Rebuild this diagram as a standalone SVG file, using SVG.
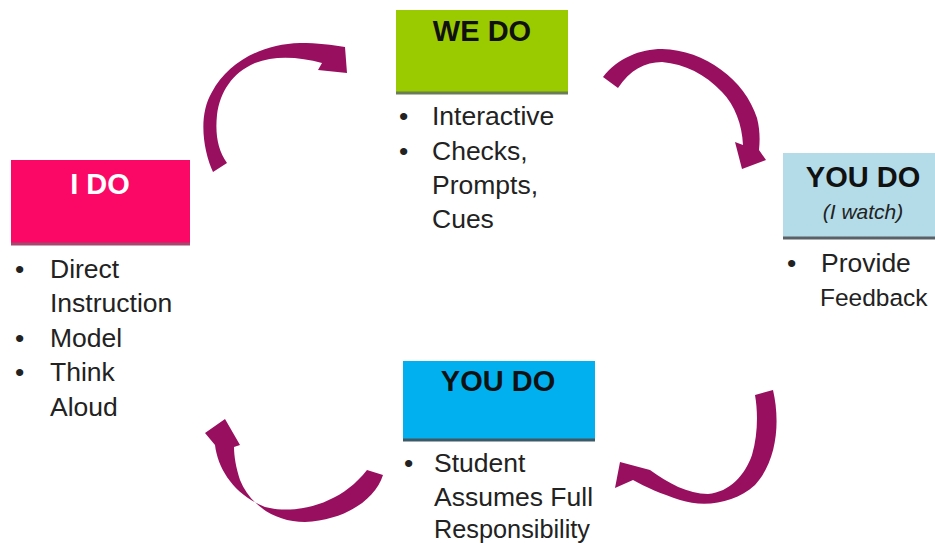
<svg xmlns="http://www.w3.org/2000/svg" width="935" height="543" viewBox="0 0 935 543">
<style>
.title{font-family:"Liberation Sans",Arial,sans-serif;font-weight:bold;font-size:29px;text-anchor:middle;fill:#111}
.body{font-family:"Liberation Sans",Arial,sans-serif;font-size:26.5px;fill:#222}
.sub{font-family:"Liberation Sans",Arial,sans-serif;font-style:italic;font-size:21px;text-anchor:middle;fill:#222}
.arrow{fill:#990f5f}
.edge{stroke-width:3}
</style>
<rect width="935" height="543" fill="#ffffff"/>
<g id="connectors">
<path class="arrow" d="M213,172 C203,150 198,115 212,92 C228,62 262,44 300,43 C318,43 332,45 345,47 L347,73 L318,70 L322,63 C300,57 275,55 255,63 C232,73 220,92 217,115 C215,135 218,150 227,163 Z"/>
<path class="arrow" d="M603,77 C618,58 640,49 662,49 C705,50 745,80 757,118 C760,130 760,140 759,150 L766,160 L742,169 L735,142 L743,145 C742,125 735,105 722,92 C705,74 685,64 662,62 C645,62 630,70 618,88 Z"/>
<path class="arrow" d="M773,390 C780,420 778,460 755,485 C735,503 705,508 680,500 C662,494 645,487 633,480 L615,488 L620,462 L650,470 C668,483 688,494 708,494 C730,492 745,475 752,455 C758,435 758,412 755,395 Z"/>
<path class="arrow" d="M383,475 C375,500 345,520 305,522 C275,522 250,505 240,480 C236,468 234,456 234,447 L240,445 L225,419 L205,433 L215,445 C218,470 235,495 265,507 C295,515 340,505 367,470 Z"/>
</g>
<g id="i-do">
<rect x="11" y="160" width="179" height="84" fill="#fb0866"/>
<line class="edge" x1="11" y1="244" x2="190" y2="244" stroke="#a3496e"/>
<text class="title" x="100" y="194" style="fill:#ffffff">I DO</text>
<text class="body" x="15" y="278">•</text>
<text class="body" x="50" y="278">Direct</text>
<text class="body" x="50" y="312">Instruction</text>
<text class="body" x="15" y="347">•</text>
<text class="body" x="50" y="347">Model</text>
<text class="body" x="15" y="381">•</text>
<text class="body" x="50" y="381">Think</text>
<text class="body" x="50" y="416">Aloud</text>
</g>
<g id="we-do">
<rect x="396" y="10" width="172" height="83" fill="#9acb00"/>
<line class="edge" x1="396" y1="93" x2="568" y2="93" stroke="#6b7d55"/>
<text class="title" x="482" y="41">WE DO</text>
<text class="body" x="399" y="125">•</text>
<text class="body" x="432" y="125">Interactive</text>
<text class="body" x="399" y="160">•</text>
<text class="body" x="432" y="160">Checks,</text>
<text class="body" x="432" y="194">Prompts,</text>
<text class="body" x="432" y="228">Cues</text>
</g>
<g id="you-do-watch">
<rect x="783" y="153" width="152" height="85" fill="#b3dce8"/>
<line class="edge" x1="783" y1="238" x2="935" y2="238" stroke="#5a6166"/>
<text class="title" x="863" y="187">YOU DO</text>
<text class="sub" x="863" y="219">(I watch)</text>
<text class="body" x="787" y="272">•</text>
<text class="body" x="821" y="272">Provide</text>
<text class="body" x="820" y="306" style="font-size:24.5px">Feedback</text>
</g>
<g id="you-do">
<rect x="403" y="361" width="192" height="79" fill="#00b0ef"/>
<line class="edge" x1="403" y1="440" x2="595" y2="440" stroke="#3e5866"/>
<text class="title" x="498" y="391">YOU DO</text>
<text class="body" x="404" y="472">•</text>
<text class="body" x="434" y="472">Student</text>
<text class="body" x="434" y="506">Assumes Full</text>
<text class="body" x="434" y="538" textLength="156" lengthAdjust="spacingAndGlyphs">Responsibility</text>
</g>
</svg>
